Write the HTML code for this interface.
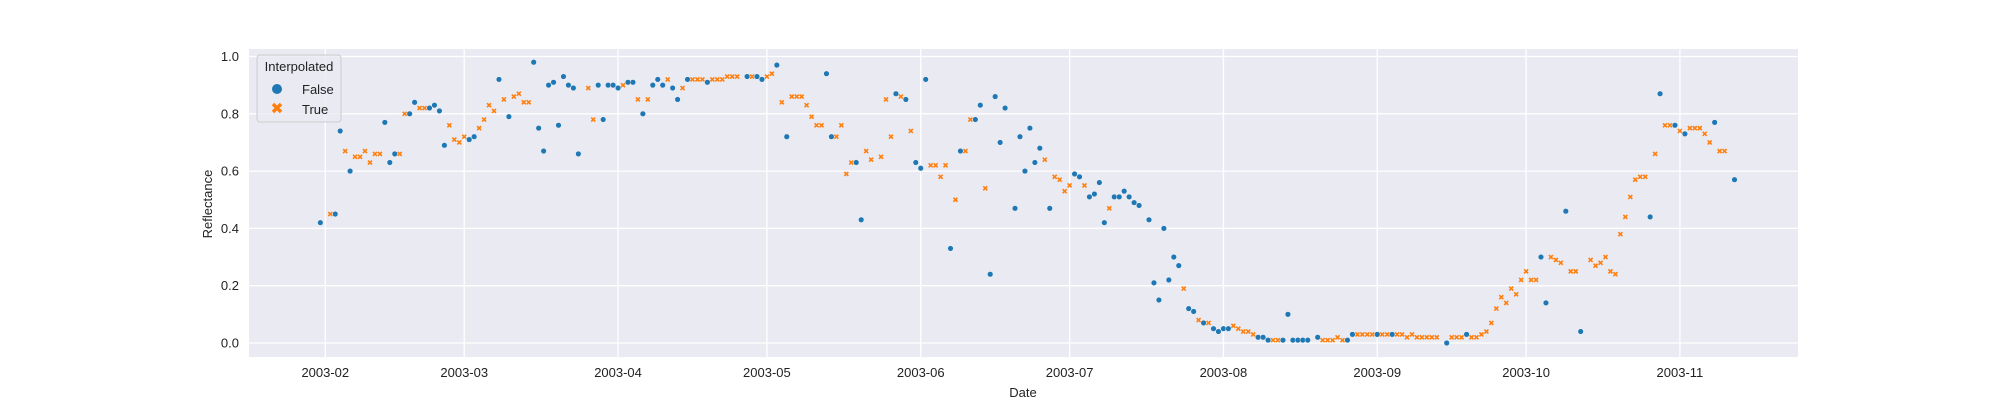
<!DOCTYPE html>
<html><head><meta charset="utf-8"><style>
html,body{margin:0;padding:0;background:#fff;}
svg{display:block;font-family:"Liberation Sans","DejaVu Sans",sans-serif;}
</style></head><body>
<svg id="chart" width="2000" height="400" viewBox="0 0 2000 400" xmlns="http://www.w3.org/2000/svg">
<rect x="249" y="49" width="1549" height="308" fill="#eaeaf2"/>
<g id="grid"></g>
<g id="marks"></g>
<g id="xticks"></g>
<g id="yticks"></g>
<text x="1023" y="397" font-size="13" text-anchor="middle" fill="#222">Date</text>
<text x="0" y="0" font-size="13" text-anchor="middle" fill="#222" transform="translate(212,204) rotate(-90)">Reflectance</text>
<g>
<rect x="257" y="55" width="84" height="67" rx="3" fill="#eaeaf2" fill-opacity="0.8" stroke="#cccccc"/>
<text x="299" y="71" font-size="13" text-anchor="middle" fill="#222">Interpolated</text>
<circle cx="277" cy="89" r="5" fill="#1f77b4"/>
<text x="302" y="94" font-size="13" fill="#222">False</text>
<path d="M273,104 l8,8 M281,104 l-8,8" stroke="#ff7f0e" stroke-width="3.5"/>
<text x="302" y="114" font-size="13" fill="#222">True</text>
</g>
</svg>
<script>
const days = [-1,1,2,3,4,5,6,7,8,9,10,11,12,13,14,15,16,17,18,19,20,21,22,23,24,25,26,27,28,29,30,31,32,33,34,35,36,37,38,39,40,41,42,43,44,45,46,47,48,49,50,51,53,54,55,56,57,58,59,60,61,62,63,64,65,66,67,68,69,70,71,72,73,74,75,76,77,78,79,80,81,82,83,85,86,87,88,89,90,91,92,93,94,95,96,97,98,99,100,101,102,103,104,105,106,107,108,109,110,112,113,114,115,116,117,118,119,120,121,122,123,124,125,126,127,128,129,130,131,132,133,134,135,136,137,139,140,141,142,143,144,145,146,147,148,149,150,151,152,153,154,155,156,157,158,159,160,161,162,163,164,166,167,168,169,170,171,172,173,174,175,176,177,178,179,180,181,182,183,184,185,186,187,188,189,190,191,192,193,194,195,196,197,198,200,201,202,203,204,205,206,207,208,209,210,211,212,213,214,215,216,217,218,219,220,221,222,223,224,226,227,228,229,230,231,232,233,234,235,236,237,238,239,240,241,242,243,244,245,246,247,248,249,250,251,252,253,255,256,257,258,259,260,261,262,263,264,265,266,267,268,269,270,271,272,273,274,275,276,277,278,279,280,281,282,284];
const values = [.42,.45,.45,.74,.67,.60,.65,.65,.67,.63,.66,.66,.77,.63,.66,.66,.80,.80,.84,.82,.82,.82,.83,.81,.69,.76,.71,.70,.72,.71,.72,.75,.78,.83,.81,.92,.85,.79,.86,.87,.84,.84,.98,.75,.67,.90,.91,.76,.93,.90,.89,.66,.89,.78,.90,.78,.90,.90,.89,.90,.91,.91,.85,.80,.85,.90,.92,.90,.92,.89,.85,.89,.92,.92,.92,.92,.91,.92,.92,.92,.93,.93,.93,.93,.93,.93,.92,.93,.94,.97,.84,.72,.86,.86,.86,.83,.79,.76,.76,.94,.72,.72,.76,.59,.63,.63,.43,.67,.64,.65,.85,.72,.87,.86,.85,.74,.63,.61,.92,.62,.62,.58,.62,.33,.50,.67,.67,.78,.78,.83,.54,.24,.86,.70,.82,.47,.72,.60,.75,.63,.68,.64,.47,.58,.57,.53,.55,.59,.58,.55,.51,.52,.56,.42,.47,.51,.51,.53,.51,.49,.48,.43,.21,.15,.40,.22,.30,.27,.19,.12,.11,.08,.07,.07,.05,.04,.05,.05,.06,.05,.04,.04,.03,.02,.02,.01,.01,.01,.01,.10,.01,.01,.01,.01,.02,.01,.01,.01,.02,.01,.01,.03,.03,.03,.03,.03,.03,.03,.03,.03,.03,.03,.02,.03,.02,.02,.02,.02,.02,.00,.02,.02,.02,.03,.02,.02,.03,.04,.07,.12,.16,.14,.19,.17,.22,.25,.22,.22,.30,.14,.30,.29,.28,.46,.25,.25,.04,.29,.27,.28,.30,.25,.24,.38,.44,.51,.57,.58,.58,.44,.66,.87,.76,.76,.76,.74,.73,.75,.75,.75,.73,.70,.77,.67,.67,.57];
const interp = [0,1,0,0,1,0,1,1,1,1,1,1,0,0,0,1,1,0,0,1,1,0,0,0,0,1,1,1,1,0,0,1,1,1,1,0,1,0,1,1,1,1,0,0,0,0,0,0,0,0,0,0,1,1,0,0,0,0,0,1,0,0,1,0,1,0,0,0,1,0,0,1,0,1,1,1,0,1,1,1,1,1,1,0,1,0,0,1,1,0,1,0,1,1,1,1,1,1,1,0,0,1,1,1,1,0,0,1,1,1,1,1,0,1,0,1,0,0,0,1,1,1,1,0,1,0,1,1,0,0,1,0,0,0,0,0,0,0,0,0,0,1,0,1,1,1,1,0,0,1,0,0,0,0,1,0,0,0,0,0,0,0,0,0,0,0,0,0,1,0,0,1,0,1,0,0,0,0,1,1,1,1,1,0,0,0,1,1,0,0,0,0,0,0,0,1,1,1,1,1,0,0,1,1,1,1,0,1,1,0,1,1,1,1,1,1,1,1,1,0,1,1,1,0,1,1,1,1,1,1,1,1,1,1,1,1,1,1,0,0,1,1,1,0,1,1,0,1,1,1,1,1,1,1,1,1,1,1,1,0,1,0,1,1,0,1,0,1,1,1,1,1,0,1,1,0];
const xTickDays = [0,28,59,89,120,150,181,212,242,273];
const xTickLabels = ["2003-02","2003-03","2003-04","2003-05","2003-06","2003-07","2003-08","2003-09","2003-10","2003-11"];
const yTicks = [0,0.2,0.4,0.6,0.8,1.0];
const yTickLabels = ["0.0","0.2","0.4","0.6","0.8","1.0"];

const NS = "http://www.w3.org/2000/svg";
const PL = 249, PR = 1798, PT = 49, PB = 357;
function xScale(d){ return 325.3 + d * 4.962; }
function yScale(v){ return 343 - v * 286.5; }
function mk(tag, attrs, parent){
  const e = document.createElementNS(NS, tag);
  for (const k in attrs) e.setAttribute(k, attrs[k]);
  parent.appendChild(e);
  return e;
}
const grid = document.getElementById('grid');
const xt = document.getElementById('xticks');
const yt = document.getElementById('yticks');
const marks = document.getElementById('marks');

xTickDays.forEach((d, i) => {
  const x = xScale(d);
  const l = mk('line', {x1:x, x2:x, y1:PT, y2:PB, stroke:'#fff', 'stroke-width':1.3}, grid);
  
  
  const t = mk('text', {x:x, y:377, 'font-size':13, 'text-anchor':'middle', fill:'#222'}, xt);
  t.textContent = xTickLabels[i];
  
  
});
yTicks.forEach((v, i) => {
  const y = yScale(v);
  const l = mk('line', {x1:PL, x2:PR, y1:y, y2:y, stroke:'#fff', 'stroke-width':1.3}, grid);
  
  
  const t = mk('text', {x:239, y:y+4.5, 'font-size':13, 'text-anchor':'end', fill:'#222'}, yt);
  t.textContent = yTickLabels[i];
  
  
});
days.forEach((d, i) => {
  const x = xScale(d), y = yScale(values[i]);
  let e;
  if (interp[i]) {
    e = mk('path', {d:`M${x-2},${y-2}L${x+2},${y+2}M${x+2},${y-2}L${x-2},${y+2}`, stroke:'#ff7f0e', 'stroke-width':1.6}, marks);
    
  } else {
    e = mk('circle', {cx:x, cy:y, r:2.8, fill:'#1f77b4', stroke:'#fff', 'stroke-width':0.4}, marks);
    
  }
  
});
</script>
</body></html>
